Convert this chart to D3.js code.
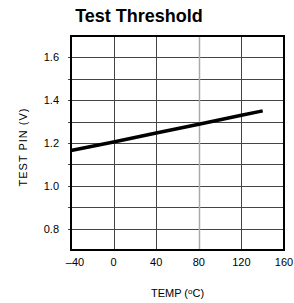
<!DOCTYPE html>
<html>
<head>
<meta charset="utf-8">
<script src="https://cdn.jsdelivr.net/npm/d3@7"></script>
<style>
  body { margin: 0; background: #fff; }
  text { font-family: Arial, "Liberation Sans", sans-serif; fill: #000; }
</style>
</head>
<body>
<div id="chart"></div>
<script>
// data
const temps = [-40, 0, 40, 80, 120, 140];
const testPin = [1.165, 1.205, 1.247, 1.288, 1.330, 1.350];
const xTicks = [-40, 0, 40, 80, 120, 160];
const yTicks = [0.8, 1.0, 1.2, 1.4, 1.6];
const yGrid = [0.8, 0.9, 1.0, 1.1, 1.2, 1.3, 1.4, 1.5, 1.6];

const width = 294, height = 303;
const plot = { left: 71, right: 284, top: 36, bottom: 250 };

const svg = d3.select("#chart").append("svg")
  .attr("width", width).attr("height", height);

const x = d3.scaleLinear().domain([-40, 160]).range([plot.left, plot.right]);
const y = d3.scaleLinear().domain([0.7, 1.7]).range([plot.bottom, plot.top]);

// title
svg.append("text")
  .attr("x", 139).attr("y", 22)
  .attr("text-anchor", "middle")
  .attr("font-size", "18px")
  .attr("font-weight", "bold")
  .text("Test Threshold");

// grid lines
svg.append("g")
  .selectAll("line")
  .data(yGrid)
  .join("line")
    .attr("x1", plot.left - 3)
    .attr("x2", plot.right)
    .attr("y1", d => Math.round(y(d)) + 0.5)
    .attr("y2", d => Math.round(y(d)) + 0.5)
    .attr("stroke", "#444")
    .attr("stroke-width", 1);

svg.append("g")
  .selectAll("line")
  .data(xTicks.slice(1, -1))
  .join("line")
    .attr("x1", d => Math.round(x(d)) + 0.5)
    .attr("x2", d => Math.round(x(d)) + 0.5)
    .attr("y1", plot.top)
    .attr("y2", plot.bottom)
    .attr("stroke", d => d === 80 ? "#aaa" : "#444")
    .attr("stroke-width", d => d === 80 ? 1.5 : 1);

// frame
svg.append("rect")
  .attr("x", plot.left).attr("y", plot.top)
  .attr("width", plot.right - plot.left)
  .attr("height", plot.bottom - plot.top)
  .attr("fill", "none")
  .attr("stroke", "#000")
  .attr("stroke-width", 2);

// tick labels
svg.append("g")
  .selectAll("text")
  .data(yTicks)
  .join("text")
    .attr("x", 59)
    .attr("y", d => y(d) + 4)
    .attr("text-anchor", "end")
    .attr("font-size", "11px")
    .text(d => d.toFixed(1));

svg.append("g")
  .selectAll("text")
  .data(xTicks)
  .join("text")
    .attr("x", d => x(d) + (d < 0 ? 4 : 0))
    .attr("y", 266)
    .attr("text-anchor", "middle")
    .attr("font-size", "11px")
    .text(d => d < 0 ? "\u2013" + Math.abs(d) : d);

// axis titles
const xt = svg.append("text")
  .attr("x", (plot.left + plot.right) / 2)
  .attr("y", 297)
  .attr("text-anchor", "middle")
  .attr("font-size", "11px");
xt.append("tspan").text("TEMP (");
xt.append("tspan").attr("font-size", "8px").attr("dy", -3).text("o");
xt.append("tspan").attr("dy", 3).text("C)");

svg.append("text")
  .attr("transform", `translate(27,${(plot.top + plot.bottom) / 2 + 4}) rotate(-90)`)
  .attr("text-anchor", "middle")
  .attr("font-size", "11px")
  .attr("letter-spacing", "1px")
  .text("TEST PIN (V)");

// data line
const line = d3.line()
  .x((d, i) => x(temps[i]))
  .y(d => y(d));

svg.append("path")
  .datum(testPin)
  .attr("d", line)
  .attr("fill", "none")
  .attr("stroke", "#000")
  .attr("stroke-width", 3.5);
</script>
</body>
</html>
